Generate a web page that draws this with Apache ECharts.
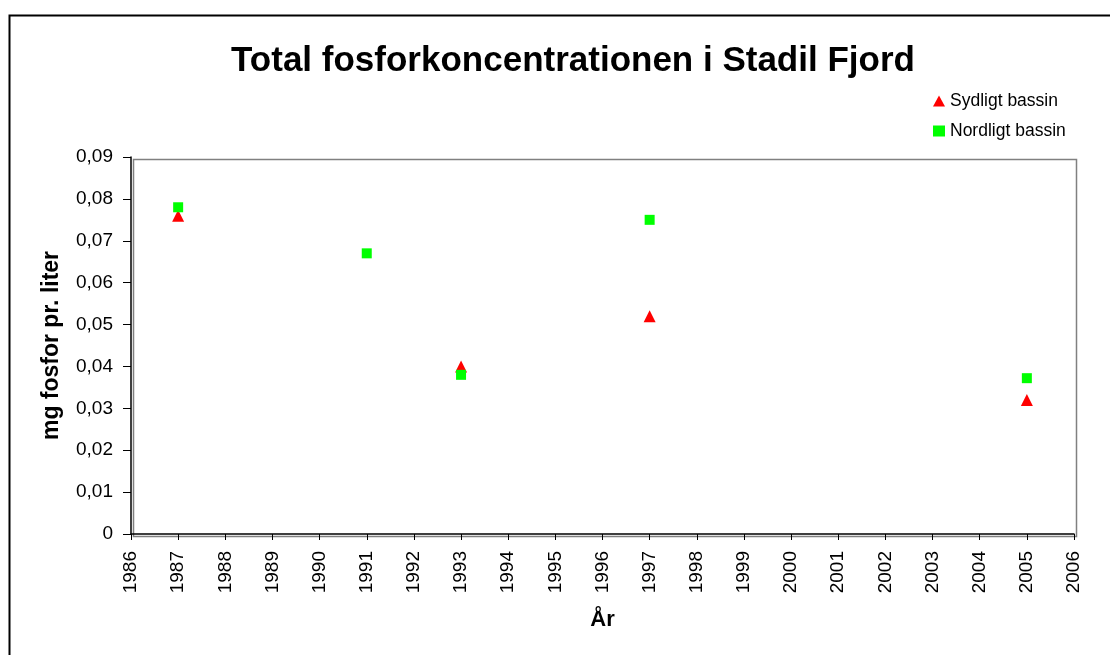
<!DOCTYPE html>
<html><head><meta charset="utf-8">
<script src="https://cdn.jsdelivr.net/npm/echarts@6/dist/echarts.min.js"></script>
<style>html,body{margin:0;padding:0;background:#fff}#c{width:1110px;height:655px}</style>
</head><body><div id="c"></div>
<script>
const sydligtYears = [1987, 1993, 1997, 2005];
const sydligtValues = [0.076, 0.040, 0.052, 0.032];
const nordligtYears = [1987, 1991, 1993, 1997, 2005];
const nordligtValues = [0.078, 0.067, 0.038, 0.075, 0.0372];
const seriesNames = ['Sydligt bassin', 'Nordligt bassin'];
const titleText = 'Total fosforkoncentrationen i Stadil Fjord';
const xAxisName = 'År';
const yAxisName = 'mg fosfor pr. liter';

const F = 'Arial, "Liberation Sans", sans-serif';
const chart = echarts.init(document.getElementById('c'));
chart.setOption({
  animation: false,
  backgroundColor: '#fff',
  graphic: [{
    type: 'rect', left: 7, top: 13, z: -10,
    shape: {width: 1120, height: 700},
    style: {fill: 'none', stroke: '#000', lineWidth: 2}
  }, {
    type: 'rect', left: 131, top: 157, z: -5,
    shape: {width: 943, height: 377},
    style: {fill: 'none', stroke: '#808080', lineWidth: 1.5}
  }],
  title: {
    text: titleText, left: 568, top: 39, textAlign: 'center',
    textStyle: {fontFamily: F, fontSize: 35, fontWeight: 'bold', color: '#000'}
  },
  legend: {
    orient: 'vertical', left: 928, top: 87, itemGap: 12,
    itemWidth: 12, itemHeight: 11,
    textStyle: {fontFamily: F, fontSize: 17.5, color: '#000'},
    data: [{name: seriesNames[0], icon: 'triangle'}, {name: seriesNames[1], icon: 'rect'}]
  },
  grid: {left: 131, top: 157, right: 36, bottom: 121},
  xAxis: {
    type: 'value', min: 1986, max: 2006, interval: 1,
    name: xAxisName, nameLocation: 'middle', nameGap: 75,
    nameTextStyle: {fontFamily: F, fontSize: 22, fontWeight: 'bold', color: '#000'},
    axisLine: {lineStyle: {color: '#000', width: 1.5}},
    axisTick: {show: true, length: 6, lineStyle: {color: '#000'}},
    axisLabel: {rotate: 90, margin: 17, fontFamily: F, fontSize: 19, color: '#000', formatter: v => String(v)},
    splitLine: {show: false}
  },
  yAxis: {
    type: 'value', min: 0, max: 0.09, interval: 0.01,
    name: yAxisName, nameLocation: 'middle', nameGap: 68, nameRotate: 90,
    nameTextStyle: {fontFamily: F, fontSize: 23, fontWeight: 'bold', color: '#000'},
    axisLine: {show: true, lineStyle: {color: '#000', width: 1.5}},
    axisTick: {show: true, length: 8, lineStyle: {color: '#000'}},
    axisLabel: {margin: 18, fontFamily: F, fontSize: 19, color: '#000',
      formatter: v => v === 0 ? '0' : v.toFixed(2).replace('.', ',')},
    splitLine: {show: false}
  },
  series: [{
    name: seriesNames[0], type: 'scatter', symbol: 'triangle', symbolSize: 12,
    itemStyle: {color: '#ff0000', opacity: 1},
    data: sydligtYears.map((y, i) => [y, sydligtValues[i]])
  }, {
    name: seriesNames[1], type: 'scatter', symbol: 'rect', symbolSize: 10,
    itemStyle: {color: '#00ff00', opacity: 1},
    data: nordligtYears.map((y, i) => [y, nordligtValues[i]])
  }]
});
</script></body></html>
